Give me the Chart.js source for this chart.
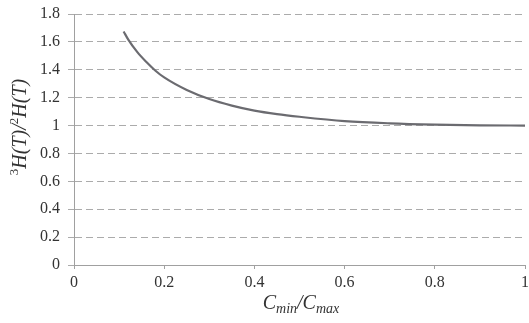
<!DOCTYPE html>
<html>
<head>
<meta charset="utf-8">
<script src="https://cdn.jsdelivr.net/npm/chart.js@4.4.0/dist/chart.umd.min.js"></script>
<style>
html,body{margin:0;padding:0;background:#fff;}
#wrap{width:529px;height:323px;position:relative;}
</style>
</head>
<body>
<div id="wrap"><canvas id="c" width="529" height="323"></canvas></div>
<script>
const ratioX = [0.11, 0.12, 0.14, 0.16, 0.18, 0.20, 0.25, 0.30, 0.35, 0.40, 0.45, 0.50, 0.60, 0.70, 0.80, 0.90, 1.00];
const ratioY = [1.675, 1.618, 1.528, 1.457, 1.395, 1.345, 1.255, 1.19, 1.143, 1.107, 1.082, 1.063, 1.032, 1.016, 1.007, 1.002, 1.0];
const xTicks = [0, 0.2, 0.4, 0.6, 0.8, 1];
const yTicks = [0, 0.2, 0.4, 0.6, 0.8, 1, 1.2, 1.4, 1.6, 1.8];

const points = ratioX.map((x, i) => ({x: x, y: ratioY[i]}));
const SERIF = '"Liberation Serif", "DejaVu Serif", serif';

function drawParts(ctx, parts, x, y, align) {
  let total = 0;
  parts.forEach(p => { ctx.font = p.font; total += ctx.measureText(p.t).width; });
  let cx = align === 'center' ? x - total / 2 : x;
  parts.forEach(p => {
    ctx.font = p.font;
    ctx.fillText(p.t, cx, y + (p.dy || 0));
    cx += ctx.measureText(p.t).width;
  });
}

const titlesPlugin = {
  id: 'titles',
  afterDraw(chart) {
    const ctx = chart.ctx;
    ctx.save();
    ctx.fillStyle = '#333';
    ctx.textBaseline = 'alphabetic';
    ctx.textAlign = 'left';
    // x title
    drawParts(ctx, [
      {t: 'C', font: 'italic 20px ' + SERIF},
      {t: 'min', font: 'italic 14px ' + SERIF, dy: 4},
      {t: '/C', font: 'italic 20px ' + SERIF},
      {t: 'max', font: 'italic 14px ' + SERIF, dy: 4}
    ], 301, 309, 'center');
    // y title
    ctx.translate(26, 127);
    ctx.rotate(-Math.PI / 2);
    drawParts(ctx, [
      {t: '3', font: '13px ' + SERIF, dy: -8},
      {t: 'H(T)/', font: 'italic 20px ' + SERIF},
      {t: '2', font: '13px ' + SERIF, dy: -8},
      {t: 'H(T)', font: 'italic 20px ' + SERIF}
    ], 0, 0, 'center');
    ctx.restore();
  }
};

new Chart(document.getElementById('c'), {
  type: 'scatter',
  data: {
    datasets: [{
      data: points,
      showLine: true,
      borderColor: '#6b6b70',
      borderWidth: 2.2,
      pointRadius: 0,
      cubicInterpolationMode: 'monotone',
      fill: false
    }]
  },
  options: {
    responsive: false,
    animation: false,
    events: [],
    layout: {padding: {left: 0, right: 4, top: 14, bottom: 0}},
    plugins: {legend: {display: false}, tooltip: {enabled: false}, title: {display: false}},
    scales: {
      x: {
        type: 'linear', min: 0, max: 1,
        afterBuildTicks: s => { s.ticks = xTicks.map(v => ({value: v})); },
        afterFit: s => { s.height = 58; s.paddingLeft = 0; s.paddingRight = 0; },
        border: {display: true, color: '#a0a0a0', width: 1},
        grid: {drawOnChartArea: false, drawTicks: true, tickLength: 4, color: '#a0a0a0'},
        ticks: {color: '#333', font: {family: SERIF, size: 16}, padding: 4, maxRotation: 0,
          callback: v => String(v)}
      },
      y: {
        type: 'linear', min: 0, max: 1.8,
        afterBuildTicks: s => { s.ticks = yTicks.map(v => ({value: v})); },
        afterFit: s => { s.width = 74; s.paddingTop = 0; s.paddingBottom = 0; },
        border: {display: true, color: '#a0a0a0', width: 1, dash: [7, 4]},
        grid: {color: '#ababab', lineWidth: 1, tickLength: 6, tickBorderDash: [7, 4], drawTicks: true},
        ticks: {color: '#333', font: {family: SERIF, size: 16}, padding: 8,
          callback: v => String(Math.round(v * 10) / 10)}
      }
    }
  },
  plugins: [titlesPlugin]
});
</script>
</body>
</html>
